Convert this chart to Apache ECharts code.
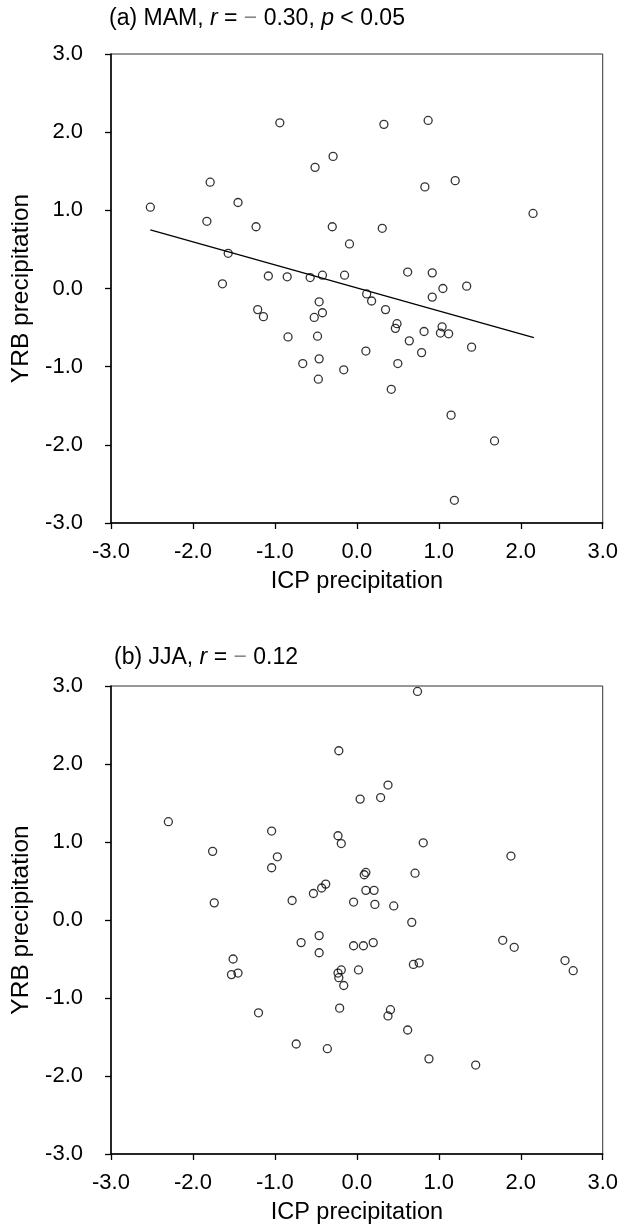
<!DOCTYPE html>
<html>
<head>
<meta charset="utf-8">
<script src="https://cdn.jsdelivr.net/npm/echarts@6/dist/echarts.min.js"></script>
<style>
html,body{margin:0;padding:0;background:#fff;}
#chart{width:621px;height:1231px;}
</style>
</head>
<body>
<div id="chart"></div>
<script>
// (a) MAM: ICP precipitation (x) vs YRB precipitation (y)
const mamX = [-0.94,-0.29,-0.51,-1.79,-1.45,-2.52,-1.83,-1.23,-0.30,-0.09,-1.57,-1.08,-0.85,-0.57,-0.42,-0.15,-1.64,
  0.33,0.87,0.83,1.20,2.15,0.31,0.62,0.92,1.05,1.34,
  -1.21,-1.14,-0.46,-0.42,-0.52,-0.84,-0.48,-0.46,-0.66,-0.47,-0.16,
  0.12,0.18,0.35,0.92,0.49,0.47,0.82,1.04,1.02,1.12,0.64,0.11,0.79,1.40,0.50,0.42,1.15,1.68,1.19];
const mamY = [2.12,1.69,1.55,1.36,1.10,1.04,0.86,0.79,0.79,0.57,0.45,0.16,0.15,0.14,0.17,0.17,0.06,
  2.10,2.15,1.30,1.38,0.96,0.77,0.21,0.20,0.00,0.03,
  -0.27,-0.36,-0.17,-0.31,-0.37,-0.62,-0.61,-0.90,-0.96,-1.16,-1.04,
  -0.07,-0.16,-0.27,-0.11,-0.45,-0.51,-0.55,-0.49,-0.57,-0.58,-0.67,-0.80,-0.82,-0.75,-0.96,-1.29,-1.62,-1.95,-2.71];
// regression line endpoints for (a)
const trendX = [-2.52, 2.16];
const trendY = [0.75, -0.63];

// (b) JJA
const jjaX = [-0.22,0.04,-2.30,-1.04,-0.23,-0.19,-1.76,-0.97,-1.04,-0.38,-0.43,-0.53,-1.74,-0.79,-0.04,
  0.74,0.38,0.29,0.81,1.88,0.11,0.09,0.71,0.11,0.21,0.22,0.45,0.67,
  -0.46,-0.68,-0.04,-0.46,-1.51,-1.45,-1.53,-0.19,-0.23,-0.22,-0.16,0.02,-1.20,-0.21,-0.74,-0.36,
  0.08,0.20,0.69,0.76,1.78,1.92,2.54,2.64,0.41,0.38,0.62,0.88,1.45];
const jjaY = [2.17,1.55,1.26,1.14,1.08,0.98,0.88,0.81,0.67,0.46,0.41,0.34,0.22,0.25,0.23,
  2.93,1.73,1.57,0.99,0.82,0.61,0.58,0.60,0.38,0.38,0.20,0.18,-0.03,
  -0.20,-0.29,-0.33,-0.42,-0.50,-0.68,-0.70,-0.64,-0.68,-0.74,-0.84,-0.64,-1.19,-1.13,-1.59,-1.65,
  -0.33,-0.29,-0.57,-0.55,-0.26,-0.35,-0.52,-0.65,-1.15,-1.23,-1.41,-1.78,-1.86];

const axisMin = -3, axisMax = 3, axisStep = 1;
const xTitle = 'ICP precipitation';
const yTitle = 'YRB precipitation';
const titleA = '(a) MAM, {i|r} = {m|\u2212} 0.30, {i|p} < 0.05';
const titleB = '(b) JJA, {i|r} = {m|\u2212} 0.12';

const FONT = '"Liberation Sans", Arial, sans-serif';
const FS_TICK = 22, FS_X = 23.5, FS_Y = 24.5, FS_T = 23;
const pairs = (xs, ys) => xs.map((x, i) => [x, ys[i]]);

function xAx(gi){
  return {
    type:'value', gridIndex:gi, min:axisMin, max:axisMax, interval:axisStep,
    name:xTitle, nameLocation:'middle', nameGap:47,
    nameTextStyle:{fontFamily:FONT, fontSize:FS_X, color:'#000'},
    axisLine:{show:true, onZero:false, lineStyle:{color:'#000', width:1.5}},
    axisTick:{show:true, inside:false, length:6, lineStyle:{color:'#000', width:1.3}},
    axisLabel:{fontFamily:FONT, fontSize:FS_TICK, color:'#000', margin:18,
      formatter:v => v.toFixed(1)},
    splitLine:{show:false}
  };
}
function yAx(gi){
  return {
    type:'value', gridIndex:gi, min:axisMin, max:axisMax, interval:axisStep,
    name:yTitle, nameLocation:'middle', nameGap:72,
    nameTextStyle:{fontFamily:FONT, fontSize:FS_Y, color:'#000'},
    axisLine:{show:true, onZero:false, lineStyle:{color:'#000', width:1.5}},
    axisTick:{show:true, inside:false, length:6, lineStyle:{color:'#000', width:1.3}},
    axisLabel:{fontFamily:FONT, fontSize:FS_TICK, color:'#000', margin:28,
      formatter:v => v.toFixed(1)},
    splitLine:{show:false}
  };
}
const rich = {
  i:{fontFamily:FONT, fontSize:FS_T, fontStyle:'italic', color:'#000'},
  m:{fontFamily:FONT, fontSize:FS_T, color:'#888'}
};
const scatterStyle = {
  type:'scatter', symbol:'circle', symbolSize:8,
  itemStyle:{color:'rgba(0,0,0,0)', borderColor:'#000', borderWidth:1.3},
  emphasis:{disabled:true}, silent:true
};

const chart = echarts.init(document.getElementById('chart'), null, {renderer:'canvas'});
chart.setOption({
  animation:false,
  backgroundColor:'#fff',
  title:[
    {text:titleA, left:104, top:2, textStyle:{fontFamily:FONT, fontSize:FS_T, fontWeight:'normal', color:'#000', rich:rich}},
    {text:titleB, left:109, top:641, textStyle:{fontFamily:FONT, fontSize:FS_T, fontWeight:'normal', color:'#000', rich:rich}}
  ],
  grid:[
    {left:111, top:54, width:494, height:469, show:true, borderColor:'#333', borderWidth:1, backgroundColor:'transparent'},
    {left:111, top:686, width:494, height:468, show:true, borderColor:'#333', borderWidth:1, backgroundColor:'transparent'}
  ],
  xAxis:[xAx(0), xAx(1)],
  yAxis:[yAx(0), yAx(1)],
  series:[
    Object.assign({}, scatterStyle, {xAxisIndex:0, yAxisIndex:0, data:pairs(mamX, mamY)}),
    {type:'line', xAxisIndex:0, yAxisIndex:0, data:pairs(trendX, trendY), symbol:'none',
     lineStyle:{color:'#000', width:1.3}, silent:true},
    Object.assign({}, scatterStyle, {xAxisIndex:1, yAxisIndex:1, data:pairs(jjaX, jjaY)})
  ]
});
</script>
</body>
</html>
